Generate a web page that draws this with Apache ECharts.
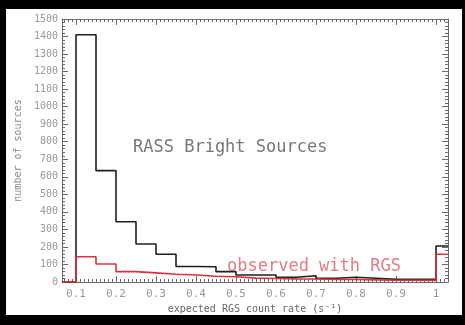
<!DOCTYPE html>
<html>
<head>
<meta charset="utf-8">
<script src="https://cdn.jsdelivr.net/npm/echarts@6/dist/echarts.min.js"></script>
<style>
html,body{margin:0;padding:0;background:#000;width:465px;height:325px;overflow:hidden;}
#paper{position:absolute;left:6px;top:9px;width:456px;height:306px;background:#fff;}
#chart{position:absolute;left:0;top:0;width:465px;height:325px;}
</style>
</head>
<body>
<div id="paper"></div>
<div id="chart"></div>
<script>
// Histogram bin starts (bin width 0.05; last bin = overflow >= 1)
const binStarts = [0.10,0.15,0.20,0.25,0.30,0.35,0.40,0.45,0.50,0.55,0.60,0.65,0.70,0.75,0.80,0.85,0.90,0.95,1.00];
// RASS bright sources (black)
const rassCounts = [1410,635,344,217,158,88,87,59,40,40,27,36,21,27,21,15,15,15,205];
// observed with RGS (red)
const rgsCounts = [144,103,59,52,44,40,33,30,22,20,18,17,15,14,12,10,10,9,158];
// axis range and tick labels
const xMin = 0.065, xMax = 1.03;
const xTickLabels = [0.1,0.2,0.3,0.4,0.5,0.6,0.7,0.8,0.9,1.0];
const yMin = 0, yMax = 1500, yStep = 100;

const font = "'DejaVu Sans Mono', monospace";
const frame = '#6a6a6a';

function stepData(counts){
  const d = [[xMin, 0]];
  binStarts.forEach((b,i)=>d.push([b, counts[i]]));
  d.push([xMax, counts[counts.length-1]]);
  return d;
}
const minorX = [];
for (let k = 7; k <= 103; k++) minorX.push(k/100);

const baseX = {type:'value', min:xMin, max:xMax, splitLine:{show:false}};
const chart = echarts.init(document.getElementById('chart'), null, {renderer:'canvas'});
chart.setOption({
  backgroundColor:'transparent',
  animation:false,
  grid:{left:62, right:17, top:19, bottom:43},
  xAxis:[
    Object.assign({}, baseX, {position:'bottom',
      name:'expected RGS count rate (s\u207B\u00B9)', nameLocation:'middle', nameGap:18,
      nameTextStyle:{fontFamily:font, fontSize:10, color:'#666'},
      axisLine:{show:true, lineStyle:{color:frame, width:1}},
      axisTick:{show:true, inside:true, length:6, customValues:xTickLabels, lineStyle:{color:frame}},
      axisLabel:{show:true, customValues:xTickLabels, margin:7, fontFamily:font, fontSize:11, color:'#999',
        formatter:v=> (Math.abs(v-1)<1e-9 ? '1' : v.toFixed(1))}}),
    Object.assign({}, baseX, {position:'bottom',
      axisLine:{show:false}, axisLabel:{show:false},
      axisTick:{show:true, inside:true, length:3, customValues:minorX, lineStyle:{color:frame}}}),
    Object.assign({}, baseX, {position:'top',
      axisLine:{show:true, lineStyle:{color:frame, width:1}}, axisLabel:{show:false},
      axisTick:{show:true, inside:true, length:6, customValues:xTickLabels, lineStyle:{color:frame}}}),
    Object.assign({}, baseX, {position:'top',
      axisLine:{show:false}, axisLabel:{show:false},
      axisTick:{show:true, inside:true, length:3, customValues:minorX, lineStyle:{color:frame}}})
  ],
  yAxis:[
    {type:'value', position:'left', min:yMin, max:yMax, interval:yStep,
      name:'number of sources', nameLocation:'middle', nameGap:27, nameRotate:90,
      nameTextStyle:{fontFamily:font, fontSize:10, color:'#888'},
      splitLine:{show:false},
      axisLine:{show:true, lineStyle:{color:frame, width:1}},
      axisTick:{show:true, inside:true, length:6, lineStyle:{color:frame}},
      minorTick:{show:true, splitNumber:5, length:3, lineStyle:{color:frame}},
      axisLabel:{margin:4, fontFamily:font, fontSize:10, color:'#999', formatter:v=>String(v)}},
    {type:'value', position:'right', min:yMin, max:yMax, interval:yStep,
      splitLine:{show:false},
      axisLine:{show:true, lineStyle:{color:frame, width:1}},
      axisTick:{show:true, inside:true, length:6, lineStyle:{color:frame}},
      minorTick:{show:true, splitNumber:5, length:3, lineStyle:{color:frame}},
      axisLabel:{show:false}}
  ],
  series:[
    {name:'RASS Bright Sources', type:'line', step:'end', xAxisIndex:0, yAxisIndex:0,
      data:stepData(rassCounts), symbol:'none', clip:true,
      lineStyle:{color:'#1e1e1e', width:1.6}},
    {name:'observed with RGS', type:'line', step:'end', xAxisIndex:0, yAxisIndex:0,
      data:stepData(rgsCounts), symbol:'none', clip:true,
      lineStyle:{color:'#e0303a', width:1.6}}
  ],
  graphic:[
    {type:'text', left:133, top:139, style:{text:'RASS Bright Sources', fontFamily:font, fontSize:17, fill:'#777'}},
    {type:'text', left:227, top:258, style:{text:'observed with RGS', fontFamily:font, fontSize:17, fill:'#e37a85'}}
  ]
});
</script>
</body>
</html>
